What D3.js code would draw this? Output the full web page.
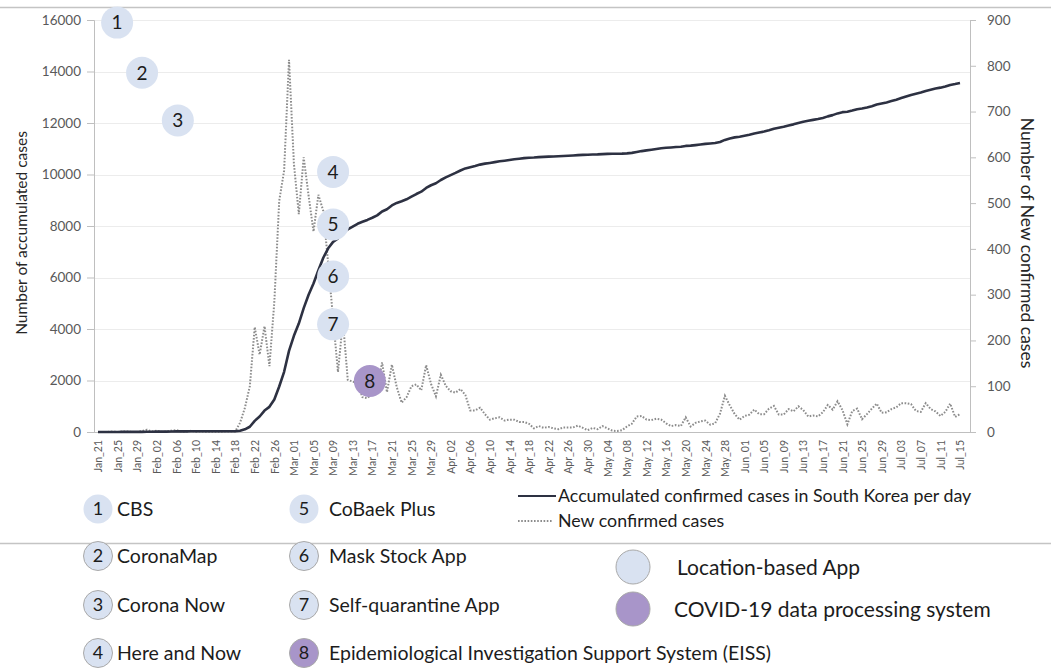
<!DOCTYPE html>
<html><head><meta charset="utf-8">
<script src="https://cdn.jsdelivr.net/npm/d3@7"></script>
<style>
html,body{margin:0;padding:0;background:#fff;}
svg{display:block;font-family:Lato,"Open Sans",sans-serif;}
</style></head>
<body>
<svg id="chart" width="1051" height="669"></svg>
<script>
// ---------- DATA ----------
const tickLabels = ["Jan_21","Jan_25","Jan_29","Feb_02","Feb_06","Feb_10","Feb_14","Feb_18","Feb_22","Feb_26",
  "Mar_01","Mar_05","Mar_09","Mar_13","Mar_17","Mar_21","Mar_25","Mar_29","Apr_02","Apr_06","Apr_10","Apr_14",
  "Apr_18","Apr_22","Apr_26","Apr_30","May_04","May_08","May_12","May_16","May_20","May_24","May_28","Jun_01",
  "Jun_05","Jun_09","Jun_13","Jun_17","Jun_21","Jun_25","Jun_29","Jul_03","Jul_07","Jul_11","Jul_15"];

// accumulated confirmed cases, daily Jan 21 .. Jul 15
const accumulated = [
  1,1,1,2,2,3,4,4,4,6,11,
  12,15,15,16,19,23,24,24,27,27,28,28,28,28,28,29,30,31,51,104,204,433,602,833,977,1261,1766,2337,3150,
  3736,4212,4812,5328,5766,6284,6767,7134,7382,7513,7755,7869,7979,8086,8162,8236,8320,8413,8565,8652,8799,8897,8961,9037,9137,9241,9332,9478,9583,9661,9786,
  9887,9976,10062,10156,10237,10284,10331,10384,10423,10450,10480,10512,10537,10564,10591,10613,10635,10653,10661,10674,10683,10694,10702,10708,10718,10728,10738,10752,10761,10765,
  10774,10780,10793,10801,10804,10806,10810,10822,10840,10874,10909,10936,10962,10991,11018,11037,11050,11065,11078,11110,11122,11142,11165,11190,11206,11225,11265,11344,11402,11441,11468,
  11503,11541,11590,11629,11668,11719,11776,11814,11852,11902,11947,12003,12051,12085,12121,12155,12198,12257,12306,12373,12421,12438,12484,12535,12563,12602,12653,12715,12757,12800,
  12850,12904,12967,13030,13091,13137,13181,13244,13293,13338,13373,13417,13479,13512,13551];

// new confirmed cases, daily Jan 21 .. Jul 15
const newCases = [
  0,0,0,1,0,1,1,0,0,2,5,
  1,3,0,1,3,4,1,0,3,0,1,0,0,0,0,1,1,1,20,53,100,229,169,231,144,284,505,571,813,
  586,476,600,516,438,518,483,367,248,131,242,114,110,107,76,74,84,93,152,87,147,98,64,76,100,104,91,146,105,78,125,
  101,89,86,94,81,47,47,53,39,27,30,32,25,27,27,22,22,18,8,13,9,11,8,6,10,10,10,14,9,4,
  9,6,13,8,3,2,4,12,18,34,35,27,26,29,27,19,13,15,13,32,12,20,23,25,16,19,40,79,58,39,27,
  35,38,49,39,39,51,57,38,38,50,45,56,48,34,36,34,43,59,49,67,48,17,46,51,28,39,51,62,42,43,
  50,54,63,63,61,46,44,63,50,45,35,44,62,33,39];

const leftTicks = [0,2000,4000,6000,8000,10000,12000,14000,16000];
const rightTicks = [0,100,200,300,400,500,600,700,800,900];

// app markers on the chart: number, day index, left-axis value, type
const markerNums   = [1,2,3,4,5,6,7,8];
const markerDays   = [3.9,9,16.3,48,48,48,48,55.5];
const markerValues = [15900,13950,12100,10100,8060,6040,4180,1980];
const markerTypes  = ["loc","loc","loc","loc","loc","loc","loc","data"];
const appNames = ["CBS","CoronaMap","Corona Now","Here and Now","CoBaek Plus","Mask Stock App","Self-quarantine App",
  "Epidemiological Investigation Support System (EISS)"];
const typeNames = ["Location-based App","COVID-19 data processing system"];
const seriesNames = ["Accumulated confirmed cases in South Korea per day","New confirmed cases"];

// ---------- DRAW ----------
const svg = d3.select("#chart");
svg.append("rect").attr("width",1051).attr("height",669).attr("fill","#fff");

const L = 94, R = 970, T = 20, B = 432;
const x = d3.scaleLinear().domain([0, accumulated.length-1]).range([98, 960]);
const yL = d3.scaleLinear().domain([0,16000]).range([B,T]);
const yR = d3.scaleLinear().domain([0,900]).range([B,T]);

const colLoc = "#d9e2f1", colData = "#a895c9";
const axisCol = "#bfbfbf", tickText = "#595959";

// frame lines
svg.append("line").attr("x1",0).attr("x2",1051).attr("y1",7.5).attr("y2",7.5).attr("stroke","#c4c4c4").attr("stroke-width",1.5);
svg.append("line").attr("x1",0).attr("x2",1051).attr("y1",543.5).attr("y2",543.5).attr("stroke","#c4c4c4").attr("stroke-width",1.5);

// gridlines
svg.append("g").selectAll("line").data(leftTicks.filter(d=>d>0)).join("line")
  .attr("x1",L).attr("x2",R).attr("y1",d=>Math.round(yL(d))+0.5).attr("y2",d=>Math.round(yL(d))+0.5)
  .attr("stroke","#ececec").attr("stroke-width",1);

// left axis
const gL = svg.append("g").attr("transform",`translate(${L},0)`)
  .call(d3.axisLeft(yL).tickValues(leftTicks).tickSize(7).tickPadding(6).tickFormat(d3.format("d")));
gL.selectAll("path,line").attr("stroke",axisCol);
gL.selectAll("text").attr("fill",tickText).style("font-size","13.5px").style("font-family","Lato");

// right axis
const gR = svg.append("g").attr("transform",`translate(${R},0)`)
  .call(d3.axisRight(yR).tickValues(rightTicks).tickSize(6).tickPadding(11).tickFormat(d3.format("d")));
gR.selectAll("path,line").attr("stroke",axisCol);
gR.selectAll("text").attr("fill",tickText).style("font-size","13.5px").style("font-family","Lato");

// x axis
svg.append("line").attr("x1",L).attr("x2",R).attr("y1",B+0.5).attr("y2",B+0.5).attr("stroke",axisCol);
const xTickIdx = tickLabels.map((d,i)=>i*4);
const gX = svg.append("g").attr("transform",`translate(0,${B})`)
  .call(d3.axisBottom(x).tickValues(xTickIdx).tickSize(0).tickFormat((d,i)=>tickLabels[i]));
gX.select(".domain").remove();
gX.selectAll("text").attr("fill",tickText).style("font-size","10.5px").style("font-family","Lato")
  .attr("text-anchor","end").attr("transform","rotate(-90)").attr("x",-8).attr("y",0).attr("dy","0.35em");

// axis titles
svg.append("text").attr("transform","translate(27,233) rotate(-90)").attr("text-anchor","middle")
  .attr("fill","#262626").style("font-size","15.5px").text("Number of accumulated cases");
svg.append("text").attr("transform","translate(1021,243) rotate(90)").attr("text-anchor","middle")
  .attr("fill","#262626").style("font-size","17.5px").text("Number of New confirmed cases");

// new cases (dotted, right axis)
svg.append("path").datum(newCases)
  .attr("d", d3.line().x((d,i)=>x(i)).y(d=>yR(d)))
  .attr("fill","none").attr("stroke","#8c8c8c").attr("stroke-width",2).attr("stroke-dasharray","1.6 1.6");

// accumulated (solid, left axis)
svg.append("path").datum(accumulated)
  .attr("d", d3.line().x((d,i)=>x(i)).y(d=>yL(d)))
  .attr("fill","none").attr("stroke","#2d3142").attr("stroke-width",2.6).attr("stroke-linejoin","round");

// chart markers
const mk = svg.append("g").selectAll("g").data(markerNums).join("g")
  .attr("transform",(d,i)=>`translate(${x(markerDays[i])},${yL(markerValues[i])})`);
mk.append("circle").attr("r",16).attr("fill",(d,i)=>markerTypes[i]==="loc"?colLoc:colData);
mk.append("text").attr("text-anchor","middle").attr("dy","0.36em").attr("fill","#1c1c1c")
  .style("font-size","19px").text(d=>d);

// legend: apps
const legRowsY = [509,556,605,653];
const legColX = [98,304];
const appLeg = svg.append("g").selectAll("g").data(markerNums).join("g")
  .attr("transform",(d,i)=>`translate(${legColX[Math.floor(i/4)]},${legRowsY[i%4]})`);
appLeg.append("circle").attr("r",14.5)
  .attr("fill",(d,i)=>markerTypes[i]==="loc"?colLoc:colData)
  .attr("stroke",(d,i)=>(i%4===0)?"none":"#a9a9a9").attr("stroke-width",1);
appLeg.append("text").attr("text-anchor","middle").attr("dy","0.36em").attr("fill","#1c1c1c")
  .style("font-size","18px").text(d=>d);
appLeg.append("text").attr("x",(d,i)=>i<4?19:25).attr("dy","0.36em").attr("fill","#1c1c1c")
  .style("font-size","19.5px").text((d,i)=>appNames[i]);

// legend: series
const serY = [496,521];
const sl = svg.append("g").selectAll("g").data(seriesNames).join("g").attr("transform",(d,i)=>`translate(518,${serY[i]})`);
sl.append("line").attr("x1",0).attr("x2",(d,i)=>i?35:38).attr("y1",0).attr("y2",0)
  .attr("stroke",(d,i)=>i?"#8c8c8c":"#2d3142").attr("stroke-width",(d,i)=>i?1.8:2.2)
  .attr("stroke-dasharray",(d,i)=>i?"1.6 1.6":null);
sl.append("text").attr("x",40).attr("dy","0.36em").attr("fill","#1c1c1c").style("font-size","17.8px").text(d=>d);

// legend: types
const typeY = [567,609];
const tl = svg.append("g").selectAll("g").data(typeNames).join("g").attr("transform",(d,i)=>`translate(633,${typeY[i]})`);
tl.append("circle").attr("r",17).attr("fill",(d,i)=>i?colData:colLoc).attr("stroke","#a9a9a9").attr("stroke-width",1);
tl.append("text").attr("x",(d,i)=>i?41:44).attr("dy","0.36em").attr("fill","#1c1c1c").style("font-size","21px").text(d=>d);
</script>
</body></html>
